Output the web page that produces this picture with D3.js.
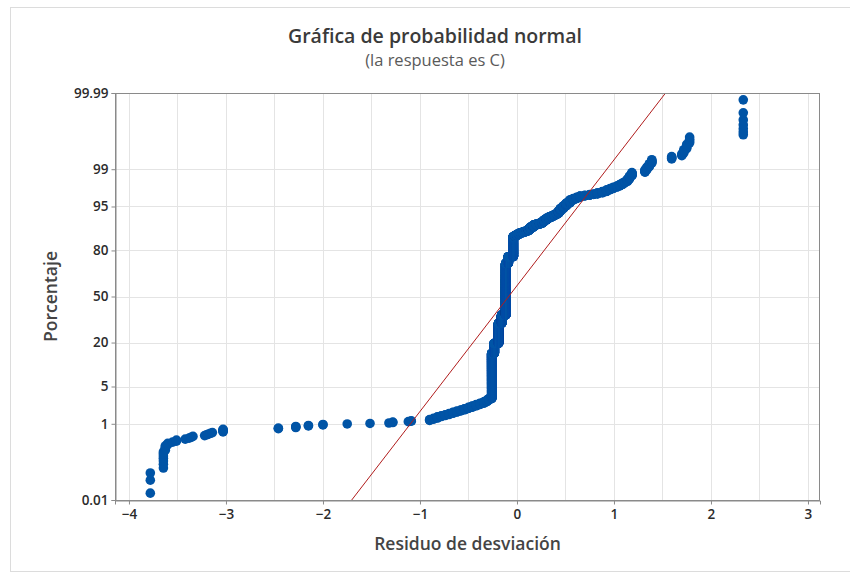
<!DOCTYPE html>
<html>
<head>
<meta charset="utf-8">
<script src="https://cdn.jsdelivr.net/npm/d3@7"></script>
<style>
  html, body { margin: 0; padding: 0; background: #ffffff; }
  svg { display: block; }
</style>
</head>
<body>
<svg id="chart" width="850" height="573"></svg>
<script>
// ---------------- DATA ----------------
// Distinct deviance-residual values (sorted) and how many observations share each value
const residuals = [
  -3.78, -3.645, -3.625, -3.60, -3.55, -3.51, -3.42, -3.38, -3.36, -3.34,
  -3.22, -3.20, -3.18, -3.16, -3.14, -3.03, -2.46, -2.28, -2.15, -2.00,
  -1.75, -1.515, -1.32, -1.28, -1.12, -1.09,
  -0.90, -0.86, -0.82, -0.78, -0.74, -0.70, -0.66, -0.62, -0.58, -0.54,
  -0.50, -0.46, -0.42, -0.38, -0.34, -0.31, -0.29,
  -0.26, -0.234, -0.19, -0.158, -0.116, -0.09, -0.038,
  -0.02, 0.00, 0.02, 0.04, 0.06, 0.08, 0.10, 0.12, 0.14, 0.17,
  0.20, 0.235, 0.26, 0.28, 0.305, 0.33, 0.36, 0.385, 0.41, 0.43,
  0.45, 0.48, 0.51, 0.545, 0.58, 0.615, 0.65, 0.70, 0.75, 0.79,
  0.83, 0.88, 0.925, 0.96, 0.995, 1.03, 1.06, 1.09, 1.115, 1.14,
  1.16, 1.185, 1.32, 1.34, 1.365, 1.39, 1.595, 1.70, 1.72, 1.75,
  1.78, 2.333
];
const counts = [
  3, 7, 4, 2, 1, 2, 1, 1, 1, 1,
  1, 1, 1, 1, 1, 5, 2, 3, 2, 2,
  1, 1, 1, 2, 1, 2,
  3, 3, 4, 3, 3, 4, 4, 4, 4, 5,
  5, 6, 6, 6, 7, 8, 8,
  510, 200, 499, 239, 1550, 166, 414,
  20, 18, 18, 10, 10, 10, 11, 25, 28, 28,
  12, 11, 20, 20, 20, 14, 13, 13, 13, 22,
  23, 21, 21, 21, 9, 8, 8, 4, 4, 3,
  6, 7, 8, 6, 6, 5, 6, 6, 5, 8,
  9, 9, 6, 6, 6, 6, 4, 3, 4, 4,
  4, 7
];
// Fitted normal reference line (mean, standard deviation)
const fitMean = -0.086;
const fitSigma = 0.435;
// Tick labels
const yTickPercents = [0.01, 1, 5, 20, 50, 80, 95, 99, 99.99];
const yTickLabels = ["0.01", "1", "5", "20", "50", "80", "95", "99", "99.99"];
const xTicks = [-4, -3, -2, -1, 0, 1, 2, 3];
const xGrid = [-4, -3.5, -3, -2.5, -2, -1.5, -1, -0.5, 0, 0.5, 1, 1.5, 2, 2.5, 3];
const xDomain = [-4.144, 3.124];

const titleText = "Gráfica de probabilidad normal";
const subtitleText = "(la respuesta es C)";
const xLabel = "Residuo de desviación";
const yLabel = "Porcentaje";

// ---------------- helpers ----------------
function probit(p) {
  const a = [-3.969683028665376e+01, 2.209460984245205e+02, -2.759285104469687e+02, 1.383577518672690e+02, -3.066479806614716e+01, 2.506628277459239e+00];
  const b = [-5.447609879822406e+01, 1.615858368580409e+02, -1.556989798598866e+02, 6.680131188771972e+01, -1.328068155288572e+01];
  const c = [-7.784894002430293e-03, -3.223964580411365e-01, -2.400758277161838e+00, -2.549732539343734e+00, 4.374664141464968e+00, 2.938163982698783e+00];
  const d = [7.784695709041462e-03, 3.224671290700398e-01, 2.445134137142996e+00, 3.754408661907416e+00];
  const pl = 0.02425, ph = 1 - pl;
  let q, r;
  if (p < pl) {
    q = Math.sqrt(-2 * Math.log(p));
    return (((((c[0]*q+c[1])*q+c[2])*q+c[3])*q+c[4])*q+c[5]) / ((((d[0]*q+d[1])*q+d[2])*q+d[3])*q+1);
  } else if (p <= ph) {
    q = p - 0.5; r = q*q;
    return (((((a[0]*r+a[1])*r+a[2])*r+a[3])*r+a[4])*r+a[5])*q / (((((b[0]*r+b[1])*r+b[2])*r+b[3])*r+b[4])*r+1);
  } else {
    q = Math.sqrt(-2 * Math.log(1 - p));
    return -(((((c[0]*q+c[1])*q+c[2])*q+c[3])*q+c[4])*q+c[5]) / ((((d[0]*q+d[1])*q+d[2])*q+d[3])*q+1);
  }
}

// Expand value/count table into ranked points (median-rank plotting positions)
const n = d3.sum(counts);
const points = [];
let rank = 0;
residuals.forEach((v, k) => {
  for (let j = 0; j < counts[k]; j++) {
    rank += 1;
    points.push({ x: v, z: probit((rank - 0.3) / (n + 0.4)) });
  }
});

// ---------------- layout ----------------
const svg = d3.select("#chart");
const L = 115, R = 820, T = 93, B = 500;
const FONT = "'Open Sans', 'Noto Sans', sans-serif";

const zMax = probit(0.9999);
const x = d3.scaleLinear().domain(xDomain).range([L, R]);
const y = d3.scaleLinear().domain([-zMax, zMax]).range([B, T]);

// outer frame
svg.append("rect")
  .attr("x", 10.5).attr("y", 7.5).attr("width", 845).attr("height", 564)
  .attr("fill", "none").attr("stroke", "#dcdcdc").attr("stroke-width", 1);

// gridlines
const grid = svg.append("g");
grid.selectAll("line.vg").data(xGrid).join("line")
  .attr("x1", d => Math.round(x(d)) + 0.5).attr("x2", d => Math.round(x(d)) + 0.5)
  .attr("y1", T).attr("y2", B)
  .attr("stroke", "#e4e4e4").attr("stroke-width", 1);
const yTickZ = yTickPercents.map(p => probit(p / 100));
grid.selectAll("line.hg").data(yTickZ.slice(1, -1)).join("line")
  .attr("x1", L).attr("x2", R)
  .attr("y1", d => Math.round(y(d)) + 0.5).attr("y2", d => Math.round(y(d)) + 0.5)
  .attr("stroke", "#e4e4e4").attr("stroke-width", 1);

// points
svg.append("g").selectAll("circle").data(points).join("circle")
  .attr("cx", d => x(d.x)).attr("cy", d => y(d.z)).attr("r", 4.8)
  .attr("fill", "#0054a6");

// fitted line (clipped to plot area)
svg.append("clipPath").attr("id", "clip").append("rect")
  .attr("x", L).attr("y", T).attr("width", R - L).attr("height", B - T);
svg.append("line")
  .attr("clip-path", "url(#clip)")
  .attr("x1", x(fitMean - fitSigma * zMax)).attr("y1", y(-zMax))
  .attr("x2", x(fitMean + fitSigma * zMax)).attr("y2", y(zMax))
  .attr("stroke", "#b01c1c").attr("stroke-width", 1);

// plot frame
svg.append("rect")
  .attr("x", L + 0.5).attr("y", T + 0.5).attr("width", R - L - 1).attr("height", B - T)
  .attr("fill", "none").attr("stroke", "#8a8a8a").attr("stroke-width", 1);

// axes
const xAxis = svg.append("g").attr("transform", `translate(0,${B + 0.5})`)
  .call(d3.axisBottom(x).tickValues(xTicks).tickSize(4).tickPadding(5).tickFormat(d3.format("d")));
const yAxis = svg.append("g").attr("transform", `translate(${L + 0.5},0)`)
  .call(d3.axisLeft(y).tickValues(yTickZ).tickSize(4).tickPadding(3).tickFormat((d, i) => yTickLabels[i]));
[xAxis, yAxis].forEach(g => {
  g.select(".domain").attr("stroke", "#8a8a8a");
  g.selectAll(".tick line").attr("stroke", "#8a8a8a");
  g.selectAll(".tick text")
    .attr("font-family", FONT).attr("font-size", 13.5).attr("font-weight", 600).attr("fill", "#2b2b2b");
});

// titles
svg.append("text").attr("x", 435).attr("y", 43).attr("text-anchor", "middle")
  .attr("font-family", FONT).attr("font-size", 19.5).attr("font-weight", 600).attr("fill", "#3a3a3a").text(titleText);
svg.append("text").attr("x", 435).attr("y", 66).attr("text-anchor", "middle")
  .attr("font-family", FONT).attr("font-size", 16.5).attr("fill", "#5a5a5a").text(subtitleText);
svg.append("text").attr("x", (L + R) / 2).attr("y", 550).attr("text-anchor", "middle")
  .attr("font-family", FONT).attr("font-size", 17.5).attr("font-weight", 600).attr("fill", "#444").text(xLabel);
svg.append("text").attr("transform", `translate(57,${(T + B) / 2}) rotate(-90)`).attr("text-anchor", "middle")
  .attr("font-family", FONT).attr("font-size", 17.5).attr("font-weight", 600).attr("fill", "#444").text(yLabel);
</script>
</body>
</html>
